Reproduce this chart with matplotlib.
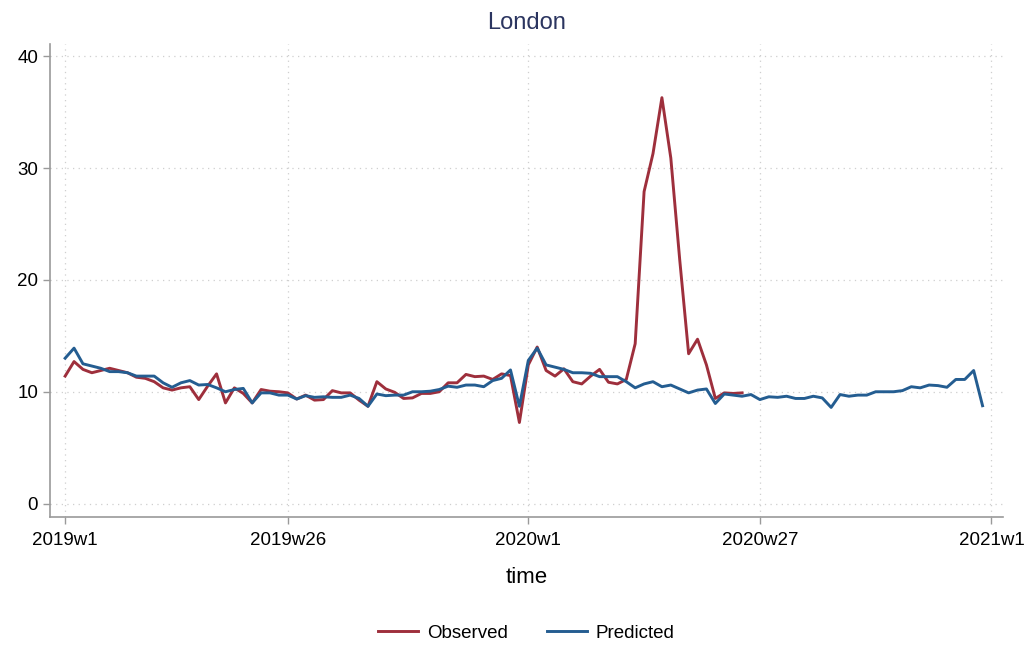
import numpy as np
from matplotlib import pyplot as plt

plt.rcParams['font.family'] = ['Liberation Sans', 'DejaVu Sans']

# week index: 0 = 2019w1, 52 = 2020w1, 104 = 2021w1
tick_weeks = [0, 25, 52, 78, 104]
tick_labels = ["2019w1", "2019w26", "2020w1", "2020w27", "2021w1"]

observed = [11.4, 12.7, 12.0, 11.7, 11.9, 12.1, 11.9, 11.7, 11.3, 11.2,
            10.9, 10.35, 10.15, 10.35, 10.45, 9.3, 10.5, 11.6, 9.0, 10.35,
            9.85, 9.0, 10.2, 10.05, 10.0, 9.9, 9.35, 9.7, 9.25, 9.3,
            10.1, 9.9, 9.9, 9.25, 8.7, 10.9, 10.25, 9.95, 9.4, 9.45,
            9.85, 9.85, 10.0, 10.8, 10.8, 11.55, 11.35, 11.4, 11.1, 11.6,
            11.45, 7.25, 12.4, 14.0, 11.9, 11.4, 12.05, 10.9, 10.7, 11.4,
            12.0, 10.85, 10.7, 11.1, 14.3, 27.9, 31.3, 36.3, 30.9, 21.8,
            13.4, 14.7, 12.4, 9.4, 9.9, 9.85, 9.9]

predicted = [13.0, 13.9, 12.5, 12.3, 12.1, 11.8, 11.8, 11.7, 11.4, 11.4,
             11.4, 10.8, 10.4, 10.8, 11.0, 10.6, 10.65, 10.35, 10.0, 10.2,
             10.3, 9.0, 9.9, 9.9, 9.7, 9.7, 9.35, 9.65, 9.5, 9.55,
             9.5, 9.5, 9.7, 9.4, 8.7, 9.8, 9.65, 9.7, 9.7, 10.0,
             10.0, 10.05, 10.2, 10.5, 10.4, 10.6, 10.6, 10.45, 11.0, 11.2,
             11.95, 8.7, 12.8, 13.9, 12.4, 12.2, 12.0, 11.7, 11.7, 11.65,
             11.35, 11.35, 11.35, 10.9, 10.35, 10.7, 10.9, 10.45, 10.6, 10.25,
             9.9, 10.15, 10.25, 8.95, 9.8, 9.7, 9.6, 9.75, 9.3, 9.55,
             9.5, 9.6, 9.4, 9.4, 9.6, 9.45, 8.6, 9.75, 9.6, 9.7,
             9.7, 10.0, 10.0, 10.0, 10.1, 10.45, 10.35, 10.6, 10.55, 10.4,
             11.1, 11.1, 11.9, 8.75]

red = '#9e2f3c'
blue = '#245d91'
axis_gray = '#9a9a9a'

fig = plt.figure(figsize=(10.33, 6.46), dpi=100)
ax = fig.add_axes([0.0484, 0.1997, 0.9226, 0.7322])

ax.plot(np.arange(len(observed)), observed, color=red, lw=2.1, label='Observed')
ax.plot(np.arange(len(predicted)), predicted, color=blue, lw=2.1, label='Predicted')

ax.set_xlim(-1.7, 105.3)
ax.set_ylim(-1.2, 41.1)
ax.set_xticks(tick_weeks)
ax.set_xticklabels(tick_labels)
ax.set_yticks([0, 10, 20, 30, 40])

ax.grid(True, linestyle=(0, (1, 3.5)), color='#cfcfcf', linewidth=0.9)
ax.set_axisbelow(True)
for s in ['top', 'right']:
    ax.spines[s].set_visible(False)
for s in ['left', 'bottom']:
    ax.spines[s].set_color(axis_gray)
    ax.spines[s].set_linewidth(1.2)
ax.tick_params(colors=axis_gray, labelcolor='black', labelsize=13.5, length=5, width=1)
ax.tick_params(axis='x', pad=6)

ax.set_title('London', fontsize=17, color='#2b3560', pad=11)
ax.set_xlabel('time', fontsize=16, labelpad=13)

fig.legend(loc='lower center', ncol=2, frameon=False, fontsize=13.5,
           handlelength=2.1, handletextpad=0.5, columnspacing=2.1,
           bbox_to_anchor=(0.5097, -0.02))

plt.savefig('out.png', dpi=100)
